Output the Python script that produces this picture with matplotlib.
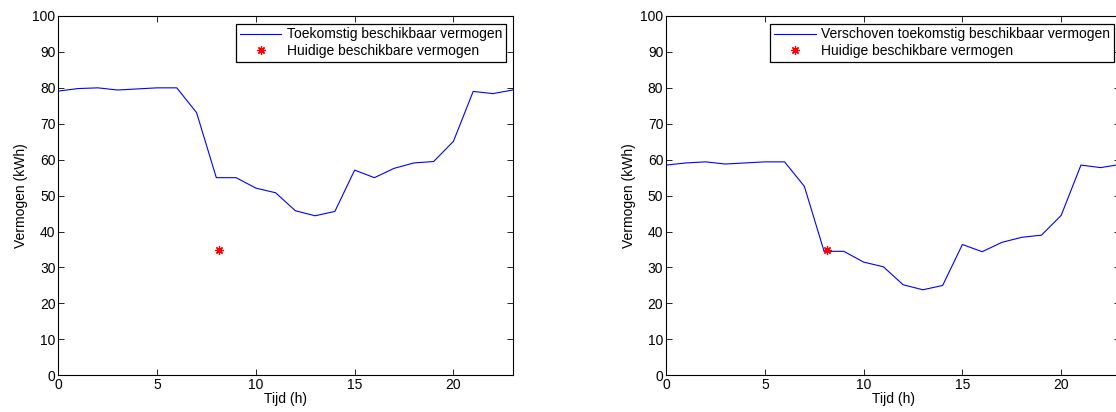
import matplotlib
matplotlib.use("Agg")
import matplotlib.pyplot as plt

plt.rcParams['font.family'] = ['Liberation Sans', 'DejaVu Sans']
plt.rcParams['font.size'] = 10

# hourly data (kWh)
uren = list(range(24))
toekomstig = [79.1, 79.8, 80.0, 79.4, 79.7, 80.0, 80.0, 73.1, 55.0, 55.0, 52.1, 50.8,
              45.8, 44.4, 45.6, 57.1, 55.0, 57.6, 59.1, 59.5, 65.1, 79.0, 78.4, 79.4]
verschoven = [58.5, 59.1, 59.4, 58.8, 59.1, 59.4, 59.4, 52.6, 34.5, 34.5, 31.5, 30.2,
              25.2, 23.8, 25.0, 36.4, 34.4, 37.0, 38.4, 39.0, 44.5, 58.5, 57.8, 58.7]
huidig_t = [8.14]
huidig_v = [35.0]

labels_links = ['Toekomstig beschikbaar vermogen', 'Huidige beschikbare vermogen']
labels_rechts = ['Verschoven toekomstig beschikbaar vermogen', 'Huidige beschikbare vermogen']

asterisk = (8, 2, 0)

fig = plt.figure(figsize=(11.16, 4.12), dpi=100)
ax1 = fig.add_axes([0.0522, 0.0891, 0.4072, 0.8721])
ax2 = fig.add_axes([0.5968, 0.0891, 0.4072, 0.8721])


def teken(ax, reeks, labels):
    ax.plot(uren, reeks, color='#0000ff', lw=0.8, label=labels[0])
    ax.plot(huidig_t, huidig_v, ls='none', marker=asterisk, ms=6, mew=0.9,
            color='#ff0000', label=labels[1])
    ax.set_xlim(0, 23)
    ax.set_ylim(0, 100)
    ax.set_xticks([0, 5, 10, 15, 20])
    ax.set_yticks(range(0, 101, 10))
    ax.tick_params(direction='in', length=4, width=0.6, top=True, right=True,
                   labelsize=10, pad=2)
    for s in ax.spines.values():
        s.set_linewidth(0.8)
    ax.set_xlabel('Tijd (h)', labelpad=0)
    ax.set_ylabel('Vermogen (kWh)', labelpad=3)
    leg = ax.legend(loc='upper right', bbox_to_anchor=(0.985, 0.978),
                    borderaxespad=0, fancybox=False, edgecolor='black',
                    framealpha=1, handlelength=3.0, handletextpad=0.4,
                    labelspacing=0.2, borderpad=0.25, fontsize=10)
    leg.get_frame().set_linewidth(0.9)


teken(ax1, toekomstig, labels_links)
teken(ax2, verschoven, labels_rechts)

fig.savefig('out.png', dpi=100)
